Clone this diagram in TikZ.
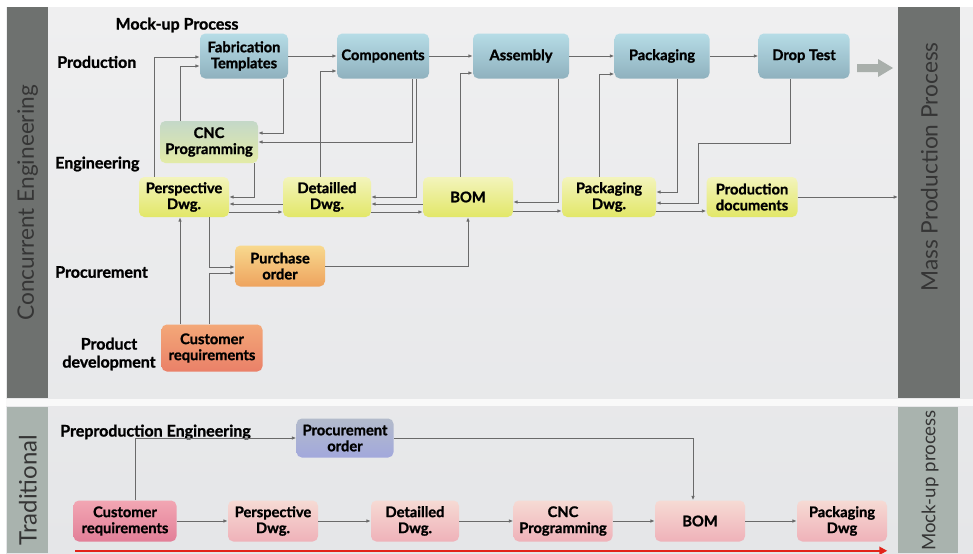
\documentclass[tikz,border=0pt]{standalone}
\usepackage{fontspec}
\setmainfont{Lato}[BoldFeatures={FakeBold=1.2}]
\usetikzlibrary{calc,arrows.meta}
\definecolor{bgtop}{HTML}{EFEFF0}
\definecolor{bgbot}{HTML}{E5E6E8}
\definecolor{band}{HTML}{6E716F}
\definecolor{bandlt}{HTML}{A9B3AE}
\definecolor{bandtxt}{HTML}{353535}
\definecolor{conn}{HTML}{6A6A6A}
\definecolor{blueT}{HTML}{B6DCE6}
\definecolor{blueB}{HTML}{8FB1BE}
\definecolor{yelT}{HTML}{F3F4BC}
\definecolor{yelB}{HTML}{E2E768}
\definecolor{cncT}{HTML}{C4D8C8}
\definecolor{cncB}{HTML}{E3EBA6}
\definecolor{orT}{HTML}{F8D98E}
\definecolor{orB}{HTML}{EEA35E}
\definecolor{crT}{HTML}{F3A878}
\definecolor{crB}{HTML}{EA8068}
\definecolor{pkT}{HTML}{F6DAD4}
\definecolor{pkB}{HTML}{EFB2B9}
\definecolor{pk2T}{HTML}{F2A6B3}
\definecolor{pk2B}{HTML}{E27F98}
\definecolor{lavT}{HTML}{B3BBCB}
\definecolor{lavB}{HTML}{A2A8DC}
\definecolor{bigarrow}{HTML}{A9AFAB}
\definecolor{redline}{HTML}{E2231A}
\tikzset{
  box/.style={rounded corners=4pt, inner sep=0pt, align=center,
    font=\bfseries\fontsize{11}{12}\selectfont, text=black},
  topbox/.style={box, top color=blueT, bottom color=blueB, minimum width=#1, minimum height=33.75pt},
  ybox/.style={box, top color=yelT, bottom color=yelB, minimum width=#1, minimum height=30pt},
  tbox/.style={box, top color=pkT, bottom color=pkB, minimum width=#1, minimum height=30.75pt},
  lbl/.style={font=\bfseries\fontsize{12}{13.5}\selectfont, inner sep=0pt},
  sidetxt/.style={rotate=90, font=\fontsize{17}{17}\selectfont, text=bandtxt, inner sep=0pt},
  conn/.style={draw=conn, line width=0.7pt, -{Latex[length=3.2pt,width=2.6pt]}},
  line/.style={draw=conn, line width=0.7pt}
}
\begin{document}
\begin{tikzpicture}[x=0.75pt,y=-0.75pt]
\useasboundingbox (0,0) rectangle (973,553);
\fill[white] (0,0) rectangle (973,553);
\shade[top color=bgtop, bottom color=bgbot] (6,7) rectangle (973,553);
\fill[white!60!bgtop] (6,399) rectangle (973,406);
% side bands
\node[fill=band, minimum width=30.75pt, minimum height=293.25pt, inner sep=0pt, anchor=north west] (ce) at (7,7) {};
\node[sidetxt] at (ce.center) {Concurrent Engineering};
\node[fill=bandlt, minimum width=30.75pt, minimum height=109.5pt, inner sep=0pt, anchor=north west] (tr) at (7,407) {};
\node[sidetxt, font=\fontsize{18}{18}\selectfont] at (28,490) {Traditional};
\node[fill=band, minimum width=46.5pt, minimum height=293.25pt, inner sep=0pt, anchor=north west] (mpp) at (898,7) {};
\node[sidetxt] at ($(mpp.north)+(0,160)$) {Mass Production Process};
\node[fill=bandlt, minimum width=45pt, minimum height=109.5pt, inner sep=0pt, anchor=north west] (mup) at (898,407) {};
\node[sidetxt, font=\fontsize{14}{14}\selectfont, anchor=east] at (930,410) {Mock-up process};

% labels
\node[lbl] at (177,25) {Mock-up Process};
\node[lbl, anchor=west] at (57,62) {Production};
\node[lbl, anchor=west] at (55,164) {Engineering};
\node[lbl, anchor=west] at (55,272) {Procurement};
\node[lbl, align=center] at (109,354) {Product\\development};
\node[lbl, anchor=west] at (60,432) {Preproduction Engineering};

% top row
\node[topbox=66pt] (fab) at (244,56) {Fabrication\\Templates};
\node[topbox=69pt] (comp) at (383,56) {Components};
\node[topbox=72pt] (asm) at (521,56) {Assembly};
\node[topbox=71.25pt] (pack) at (662,56) {Packaging};
\node[topbox=68.25pt] (drop) at (804,56) {Drop Test};
\fill[bigarrow] (857,64) -- (878,64) -- (878,59) -- (893,68) -- (878,77) -- (878,72) -- (857,72) -- cycle;

% engineering row
\node[box, top color=cncT, bottom color=cncB, minimum width=73.5pt, minimum height=31.5pt] (cnc) at (209,142) {CNC\\Programming};
\node[ybox=67.5pt] (persp) at (184,197) {Perspective\\Dwg.};
\node[ybox=66pt] (det) at (327,197) {Detailled\\Dwg.};
\node[ybox=67.5pt] (bom) at (468,197) {BOM};
\node[ybox=70.5pt] (pdwg) at (609,197) {Packaging\\Dwg.};
\node[ybox=68.25pt] (pdoc) at (752,197) {Production\\documents};
% procurement / product dev
\node[box, top color=orT, bottom color=orB, minimum width=67.5pt, minimum height=30.75pt] (po) at (280,266) {Purchase\\order};
\node[box, top color=crT, bottom color=crB, minimum width=75.75pt, minimum height=35.25pt] (cr) at (212,348) {Customer\\requirements};

% traditional row
\node[box, top color=lavT, bottom color=lavB, minimum width=72.75pt, minimum height=29.25pt] (proc) at (345,438) {Procurement\\order};
\node[box, top color=pk2T, bottom color=pk2B, minimum width=77.25pt, minimum height=30.75pt] (cr2) at (125,521) {Customer\\requirements};
\node[tbox=67.5pt] (p2) at (273,521) {Perspective\\Dwg.};
\node[tbox=66pt] (d2) at (415,521) {Detailled\\Dwg.};
\node[tbox=74.25pt] (cnc2) at (563,521) {CNC\\Programming};
\node[tbox=67.5pt] (bom2) at (700,521) {BOM};
\node[tbox=67.5pt] (pk2) at (842,521) {Packaging\\Dwg};

% concurrent connectors
\draw[conn] ($(persp.north)+(-30,0)$) |- ($(fab.west)+(0,1)$);
\draw[conn] ($(cnc.north)+(-29,0)$) |- ($(fab.west)+(0,10)$);
\draw[conn] ($(fab.south)+(39,0)$) |- ($(cnc.east)+(0,-9)$);
\draw[conn] ($(comp.south)+(29,0)$) |- (cnc.east);
\draw[conn] ($(comp.south)+(33,0)$) |- (det.east);
\draw[conn] ($(bom.west)+(0,7)$) -- ($(det.east)+(0,7)$);
\draw[conn] ($(det.east)+(0,15)$) -- ($(bom.west)+(0,15)$);
\draw[conn] ($(det.north)+(-7,0)$) |- ($(comp.west)+(0,15)$);
\draw[conn] (fab.east) -- (comp.west);
\draw[conn] (comp) -- (asm);
\draw[conn] (asm) -- (pack);
\draw[conn] (pack) -- (drop);
\draw[conn] ($(bom.north)+(-8,0)$) |- ($(asm.west)+(0,17)$);
\draw[conn] ($(asm.south)+(37,0)$) |- ($(bom.east)+(0,5)$);
\draw[conn] ($(bom.east)+(0,14)$) -- ($(pdwg.west)+(0,14)$);
\draw[conn] ($(pdwg.north)+(-10,0)$) |- ($(pack.west)+(0,18)$);
\draw[conn] ($(pack.south)+(15,0)$) |- ($(pdwg.east)+(0,-5)$);
\draw[conn] ($(drop.south)+(-14,0)$) |- ($(pdwg.east)+(42,-54)$) |- ($(pdwg.east)+(0,6)$);
\draw[conn] ($(pdwg.east)+(0,14)$) -- ($(pdoc.west)+(0,14)$);
\draw[conn] (pdoc.east) -- (pdoc.east -| mpp.west);
\draw[conn] ($(cnc.south)+(45,0)$) |- (persp.east);
\draw[conn] ($(det.west)+(0,7)$) -- ($(persp.east)+(0,7)$);
\draw[conn] ($(persp.east)+(0,15)$) -- ($(det.west)+(0,15)$);
\draw[conn] ($(persp.south)+(25,0)$) |- ($(po.west)+(0,1)$);
\draw[conn] ($(cr.north)+(-3,0)$) |- ($(po.west)+(0,7)$);
\draw[conn] ($(cr.north)+(-32,0)$) -- ($(persp.south)+(-4,0)$);
\draw[conn] (po.east) -| (bom.south);

% traditional connectors
\draw[conn] (cr2) -- (p2);
\draw[conn] (p2) -- (d2);
\draw[conn] (d2) -- (cnc2);
\draw[conn] (cnc2) -- (bom2);
\draw[conn] (bom2) -- (pk2);
\draw[conn] ($(cr2.north)+(10,0)$) |- (proc.west);
\draw[conn] (proc.east) -| ($(bom2.north)+(-7,0)$);
\coordinate (rs) at ($(cr2.south west)+(2,9)$);
\coordinate (re) at (rs -| pk2.east);
\draw[redline, line width=1.8pt, -{Triangle[length=6pt,width=6pt]}] (rs) -- (re);
\end{tikzpicture}
\end{document}
